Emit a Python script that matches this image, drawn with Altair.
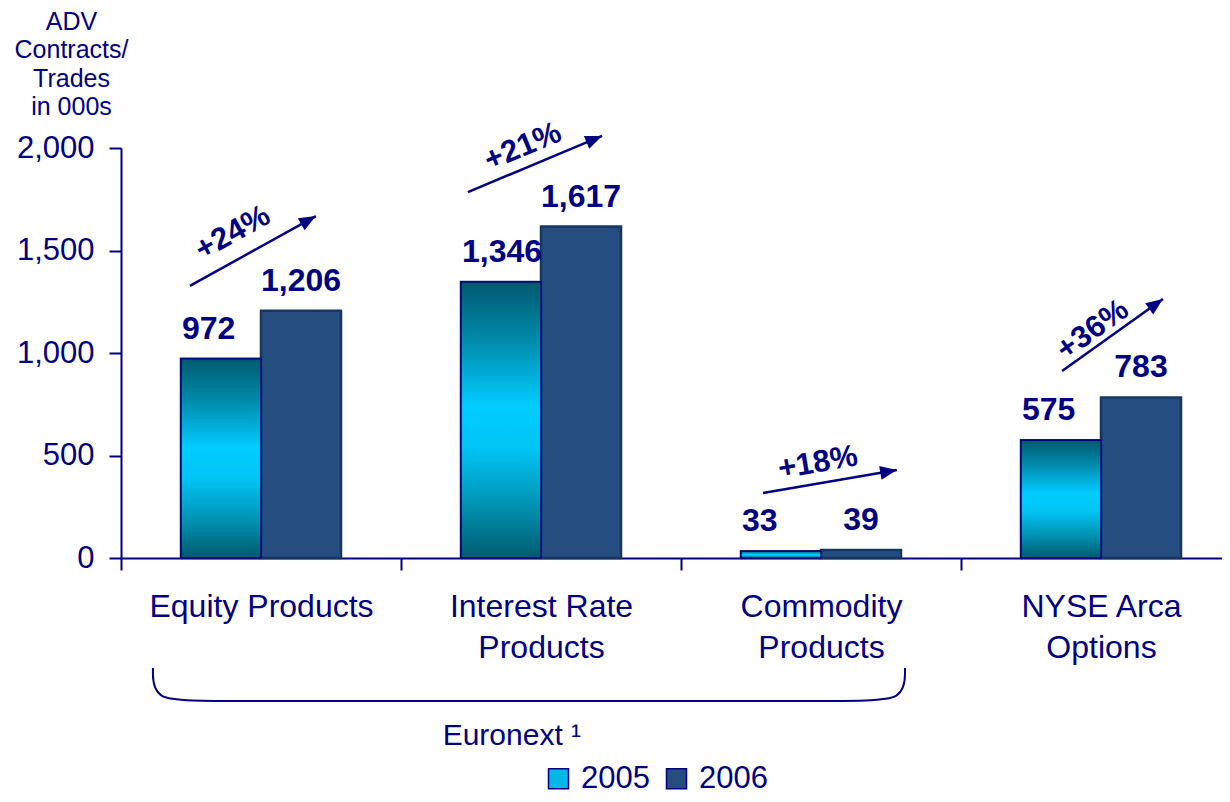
import math
import altair as alt
import pandas as pd

# ---------------- data ----------------
categories = ["Equity Products", "Interest Rate|Products", "Commodity|Products", "NYSE Arca|Options"]
years = ["2005", "2006"]
adv_2005 = [972, 1346, 33, 575]
adv_2006 = [1206, 1617, 39, 783]
growth = ["+24%", "+21%", "+18%", "+36%"]

# growth arrows (x in category units, y in ADV units)
arrow_x0 = [0.246, 1.239, 2.293, 3.361]
arrow_y0 = [1327, 1785, 317, 912]
arrow_x1 = [0.696, 1.718, 2.771, 3.721]
arrow_y1 = [1668, 2059, 429, 1263]
growth_x = [0.40, 1.436, 2.489, 3.471]
growth_y = [1585, 2005, 463, 1112]

# Euronext bracket
bracket_x = [0.114, 0.114, 0.30, 2.614, 2.80, 2.80]
bracket_y = [-537, -698, -698, -698, -698, -537]
group_label = ["Euronext \u00b9"]
group_x = [1.396]
group_y = [-912]

y_title = ["ADV", "Contracts/", "Trades", "in 000s"]

# ---------------- styling ----------------
navy = "#000080"
FONT = "Liberation Sans"
PLOT_W = 1101
RANGE_W = 1120
PLOT_H = 410
PX_PER_CAT = RANGE_W / len(categories)
PX_PER_UNIT = PLOT_H / 2000

df = pd.DataFrame({
    "cat": categories * 2,
    "year": ["2005"] * 4 + ["2006"] * 4,
    "v": adv_2005 + adv_2006,
})

angles = []
for x0, y0, x1, y1 in zip(arrow_x0, arrow_y0, arrow_x1, arrow_y1):
    a = math.degrees(math.atan2((y1 - y0) * PX_PER_UNIT, (x1 - x0) * PX_PER_CAT))
    angles.append((360 - a) % 360)

arrows = pd.DataFrame({"x0": arrow_x0, "y0": arrow_y0, "x1": arrow_x1, "y1": arrow_y1,
                       "ang": angles, "lab": growth, "lx": growth_x, "ly": growth_y})
bracket = pd.DataFrame({"bx": bracket_x, "by": bracket_y, "i": list(range(len(bracket_x)))})
group_df = pd.DataFrame({"gx": group_x, "gy": group_y, "t": group_label})

yscale = alt.Scale(domain=[0, 2000], nice=False, range=[PLOT_H, 0])
xq = alt.Scale(domain=[0, 4], range=[0, RANGE_W], nice=False, zero=False)

x_enc = alt.X(
    "cat:N", sort=categories,
    scale=alt.Scale(range=[0, RANGE_W], paddingInner=0, paddingOuter=0),
    axis=alt.Axis(
        title=None, labelExpr="split(datum.label, '|')", labelAngle=0, labelLimit=600,
        tickBand="extent", tickSize=12, tickWidth=2, domainWidth=2, grid=False,
        labelFontSize=32, labelLineHeight=41, labelPadding=21,
        labelColor=navy, tickColor=navy, domainColor=navy, labelFont=FONT,
    ),
)
xoff_enc = alt.XOffset("year:N", sort=years, scale=alt.Scale(paddingOuter=0.75, paddingInner=0))
y_enc = alt.Y(
    "v:Q", scale=yscale,
    axis=alt.Axis(
        values=[0, 500, 1000, 1500, 2000], format=",.0f", grid=False, labelLimit=300,
        tickSize=12, tickWidth=2, domainWidth=2, labelPadding=15,
        labelFontSize=31, labelColor=navy, tickColor=navy, domainColor=navy, labelFont=FONT,
        title=y_title, titleAngle=0, titleAlign="center", titleBaseline="alphabetic",
        titleX=-50, titleY=-119, titleFontSize=25, titleFontWeight="normal",
        titleColor=navy, titleLineHeight=28.5, titleFont=FONT,
    ),
)

base = alt.Chart(df)

bars = base.mark_bar(stroke="#163860", strokeWidth=2.5).encode(
    x=x_enc, xOffset=xoff_enc, y=y_enc,
    color=alt.Color(
        "year:N", sort=years,
        scale=alt.Scale(domain=years, range=["#00B8E6", "#264D80"]),
        legend=alt.Legend(
            title=None, orient="none", legendX=422, legendY=615, direction="horizontal",
            symbolType="square", symbolSize=400, labelFontSize=31, labelColor=navy,
            labelFont=FONT, labelOffset=7, columnPadding=11, symbolStrokeColor=navy,
            symbolStrokeWidth=1.5, padding=0,
        ),
    ),
)

gradient = {
    "gradient": "linear", "x1": 0, "x2": 0, "y1": 0, "y2": 1,
    "stops": [
        {"offset": 0, "color": "#005A6E"},
        {"offset": 0.2, "color": "#0088A8"},
        {"offset": 0.45, "color": "#00CCFF"},
        {"offset": 0.6, "color": "#00C4F4"},
        {"offset": 0.82, "color": "#0090B0"},
        {"offset": 1, "color": "#005A6E"},
    ],
}
bars05 = base.transform_filter("datum.year == '2005'").mark_bar(
    fill=gradient, stroke=navy, strokeWidth=1.5
).encode(x=x_enc, xOffset=xoff_enc, y=y_enc)

lab05 = base.transform_filter("datum.year == '2005'").mark_text(
    align="left", baseline="alphabetic", dx=-39, dy=-20, fontSize=32,
    fontWeight="bold", color=navy, font=FONT,
).encode(x=x_enc, xOffset=xoff_enc, y=y_enc, text=alt.Text("v:Q", format=","))

lab06 = base.transform_filter("datum.year == '2006'").mark_text(
    align="center", baseline="alphabetic", dy=-20, fontSize=32,
    fontWeight="bold", color=navy, font=FONT,
).encode(x=x_enc, xOffset=xoff_enc, y=y_enc, text=alt.Text("v:Q", format=","))

bar_group = alt.layer(bars, bars05, lab05, lab06)

arrow_lines = alt.Chart(arrows).mark_rule(color=navy, strokeWidth=2.5).encode(
    x=alt.X("x0:Q", scale=xq, axis=None),
    y=alt.Y("y0:Q", scale=yscale, axis=None),
    x2="x1:Q", y2="y1:Q",
)
arrow_heads = alt.Chart(arrows).mark_point(
    shape="M0,0 L-1.5,-0.62 L-1.5,0.62 Z", filled=True, size=500, color=navy, opacity=1, strokeWidth=0,
).encode(
    x=alt.X("x1:Q", scale=xq, axis=None),
    y=alt.Y("y1:Q", scale=yscale, axis=None),
    angle=alt.Angle("ang:Q", scale=None),
)
arrow_text = alt.Chart(arrows).mark_text(
    align="center", baseline="middle", fontSize=31, fontWeight="bold", color=navy, font=FONT,
).encode(
    x=alt.X("lx:Q", scale=xq, axis=None),
    y=alt.Y("ly:Q", scale=yscale, axis=None),
    angle=alt.Angle("ang:Q", scale=None),
    text="lab:N",
)
bracket_line = alt.Chart(bracket).mark_line(
    color=navy, strokeWidth=2, interpolate="basis",
).encode(
    x=alt.X("bx:Q", scale=xq, axis=None),
    y=alt.Y("by:Q", scale=yscale, axis=None),
    order="i:Q",
)
group_text = alt.Chart(group_df).mark_text(
    align="center", baseline="alphabetic", fontSize=30, color=navy, font=FONT,
).encode(
    x=alt.X("gx:Q", scale=xq, axis=None),
    y=alt.Y("gy:Q", scale=yscale, axis=None),
    text="t:N",
)
annot_group = alt.layer(arrow_lines, arrow_heads, arrow_text, bracket_line, group_text)

chart = alt.layer(bar_group, annot_group).resolve_scale(
    x="independent", y="independent"
).properties(
    width=PLOT_W, height=PLOT_H,
    autosize=alt.AutoSizeParams(type="none"),
    padding={"left": 113, "top": 140, "right": 0, "bottom": 236},
    background="white",
).configure(
    font=FONT
).configure_view(
    stroke="transparent", strokeWidth=0
).configure_axis(
    grid=False
).configure_axisTop(
    domain=False, ticks=False, labels=False, grid=False
).configure_axisRight(
    domain=False, ticks=False, labels=False, grid=False
)

chart.save("out.html", embed_options={"renderer": "svg", "actions": False})
